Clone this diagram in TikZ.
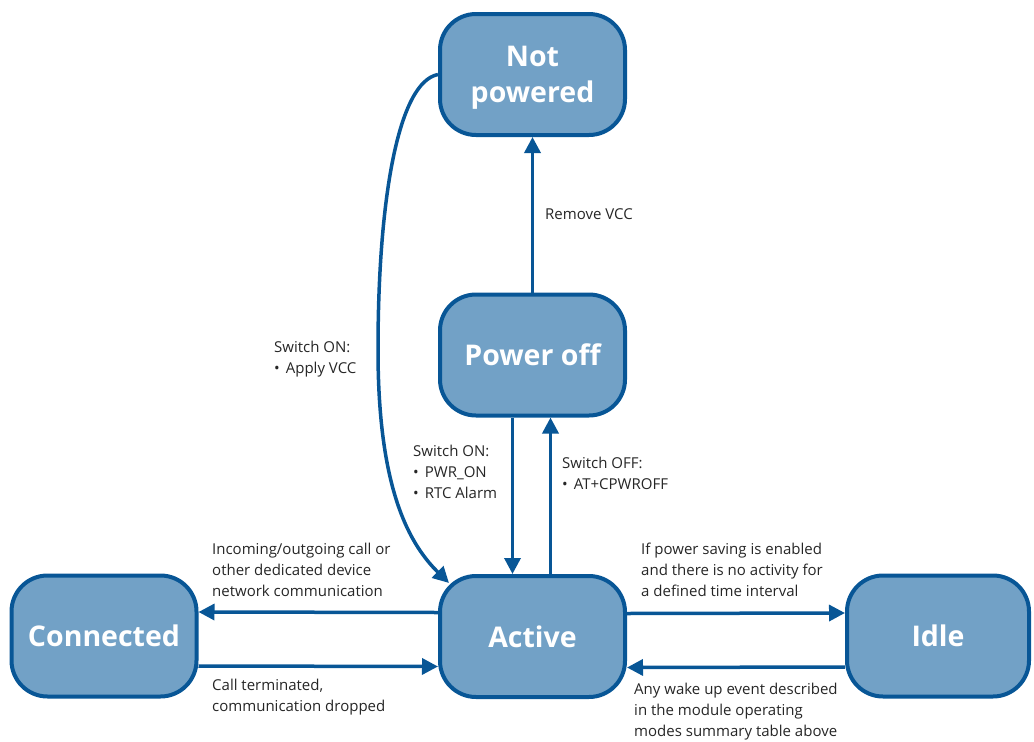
\documentclass[tikz,border=0pt]{standalone}
\usepackage{fontspec}
\setmainfont{Open Sans}
\usetikzlibrary{arrows.meta}
\definecolor{stfill}{RGB}{114,161,198}
\definecolor{stline}{RGB}{8,86,150}
\begin{document}
\begin{tikzpicture}[x=1pt,y=-1pt,
 state/.style={draw=stline, line width=4pt, fill=stfill, rounded corners=36pt, minimum width=185pt, minimum height=121pt, inner sep=0pt, align=center, text=white, font=\fontsize{28.5}{36}\selectfont\bfseries},
 conn/.style={draw=stline, line width=3.5pt, -{Triangle[length=16pt,width=16pt]}},
 lbl/.style={anchor=north west, inner sep=0pt, align=left, text=black!85, font=\fontsize{15}{21}\selectfont}]
\useasboundingbox (0,0) rectangle (1034,742);
\node[state] (np) at (532.5,74.5) {Not\\\raisebox{0pt}[\height][0pt]{powered}};
\node[state] (po) at (532.5,355) {Power off};
\node[state] (ac) at (532.5,636.5) {Active};
\node[state] (co) at (104,636) {Connected};
\node[state, minimum width=182pt] (id) at (938,636) {Idle};
\coordinate (ce) at (449,583);
\draw[conn] (po.north) -- (np.south);
\draw[conn] ([xshift=-20pt]po.south) -- ([xshift=-20pt]ac.north);
\draw[conn] ([xshift=18pt]ac.north) -- ([xshift=18pt]po.south);
\draw[conn] ([yshift=24pt]ac.west) -- ([yshift=24pt]co.east);
\draw[conn] ([yshift=-30pt]co.east) -- ([yshift=-30pt]ac.west);
\draw[conn] ([yshift=23pt]ac.east) -- ([yshift=23pt]id.west);
\draw[conn] ([yshift=-31pt]id.west) -- ([yshift=-31pt]ac.east);
\draw[conn] (np.west) .. controls (398,82) and (378,200) .. (378,350) .. controls (378,480) and (405,540) .. (ce);
\node[lbl] (l1) at (545,205) {\strut Remove VCC};
\node[lbl] (l2) at (274,338) {\strut Switch ON:\\\textbullet\hspace{6pt}Apply VCC};
\node[lbl] (l3) at (413,442) {\strut Switch ON:\\\textbullet\hspace{6pt}PWR\_ON\\\textbullet\hspace{6pt}RTC Alarm};
\node[lbl] (l4) at (562,454) {\strut Switch OFF:\\\textbullet\hspace{6pt}AT+CPWROFF};
\node[lbl] (l5) at (212,540) {\strut Incoming/outgoing call or\\other dedicated device\\network communication};
\node[lbl] (l6) at (212,676) {\strut Call terminated,\\communication dropped};
\node[lbl] (l7) at (641,540) {\strut If power saving is enabled\\and there is no activity for\\a defined time interval};
\node[lbl] (l8) at (634,680) {\strut Any wake up event described\\in the module operating\\modes summary table above};
\end{tikzpicture}
\end{document}
